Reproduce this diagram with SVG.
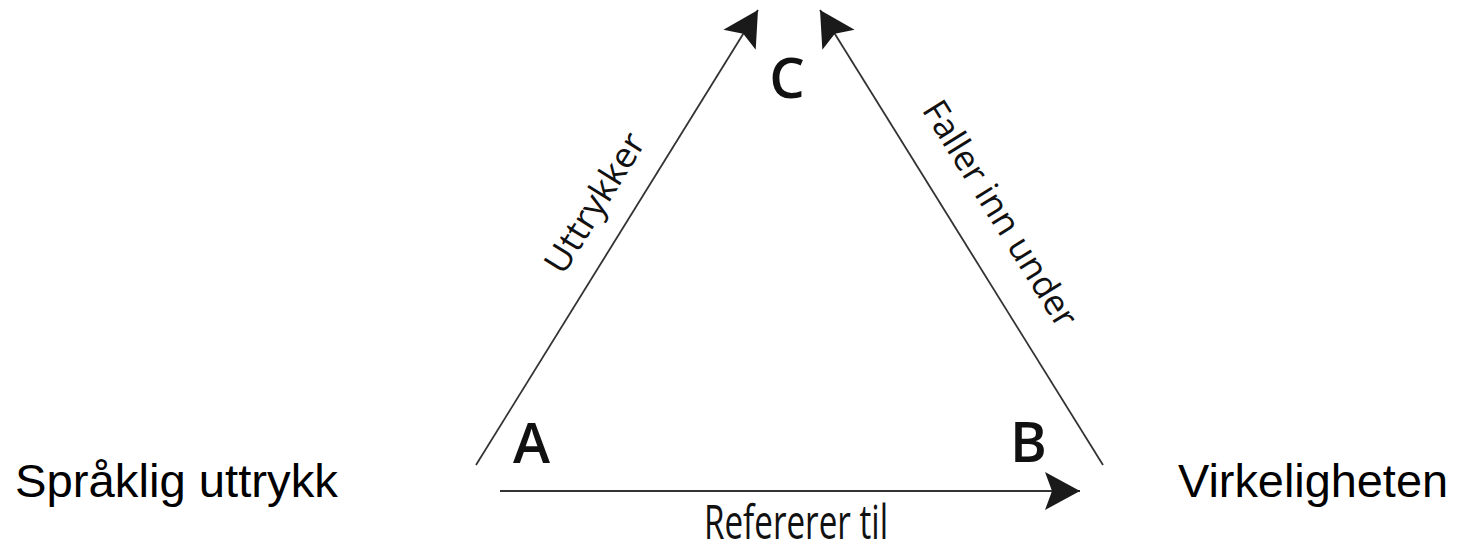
<svg xmlns="http://www.w3.org/2000/svg" width="1457" height="551" viewBox="0 0 1457 551">
<defs>
<marker id="ah" markerUnits="userSpaceOnUse" markerWidth="40" markerHeight="40" viewBox="-37 -20 40 40" refX="0" refY="0" orient="auto">
<path d="M0,0 L-35,-19 L-28,0 L-35,19 Z" fill="#1a1a1a"/>
</marker>
</defs>
<style>
.conn{stroke:#333;stroke-width:1.8;fill:none;marker-end:url(#ah)}
.big{font-family:"Liberation Sans",Arial,sans-serif;font-size:47px;fill:#000}
.corner{font-family:"Open Sans","DejaVu Sans",sans-serif;font-size:56px;font-weight:600;fill:#111}
.lbl{font-family:"Open Sans","DejaVu Sans",sans-serif;font-size:35px;fill:#111}
</style>
<rect width="1457" height="551" fill="#fff"/>
<g id="connectors">
<line class="conn" x1="476" y1="465" x2="758" y2="10"/>
<line class="conn" x1="1103" y1="465" x2="820" y2="10"/>
<line class="conn" x1="500" y1="491" x2="1080" y2="491"/>
<text class="lbl" transform="translate(605,209) rotate(-58.2)" text-anchor="middle" textLength="158" lengthAdjust="spacingAndGlyphs">Uttrykker</text>
<text class="lbl" transform="translate(990,220) rotate(58.1)" text-anchor="middle" textLength="260" lengthAdjust="spacingAndGlyphs">Faller inn under</text>
<text class="lbl" x="704" y="539" style="font-size:47px" textLength="184" lengthAdjust="spacingAndGlyphs">Refererer til</text>
</g>
<g id="node-A"><text class="corner" x="513" y="463">A</text></g>
<g id="node-B"><text class="corner" x="1010" y="462">B</text></g>
<g id="node-C"><text class="corner" x="787" y="98" text-anchor="middle">C</text></g>
<g id="node-sprak"><text class="big" x="15" y="497" textLength="323" lengthAdjust="spacingAndGlyphs">Språklig uttrykk</text></g>
<g id="node-virk"><text class="big" x="1178" y="497" textLength="270" lengthAdjust="spacingAndGlyphs">Virkeligheten</text></g>
</svg>
